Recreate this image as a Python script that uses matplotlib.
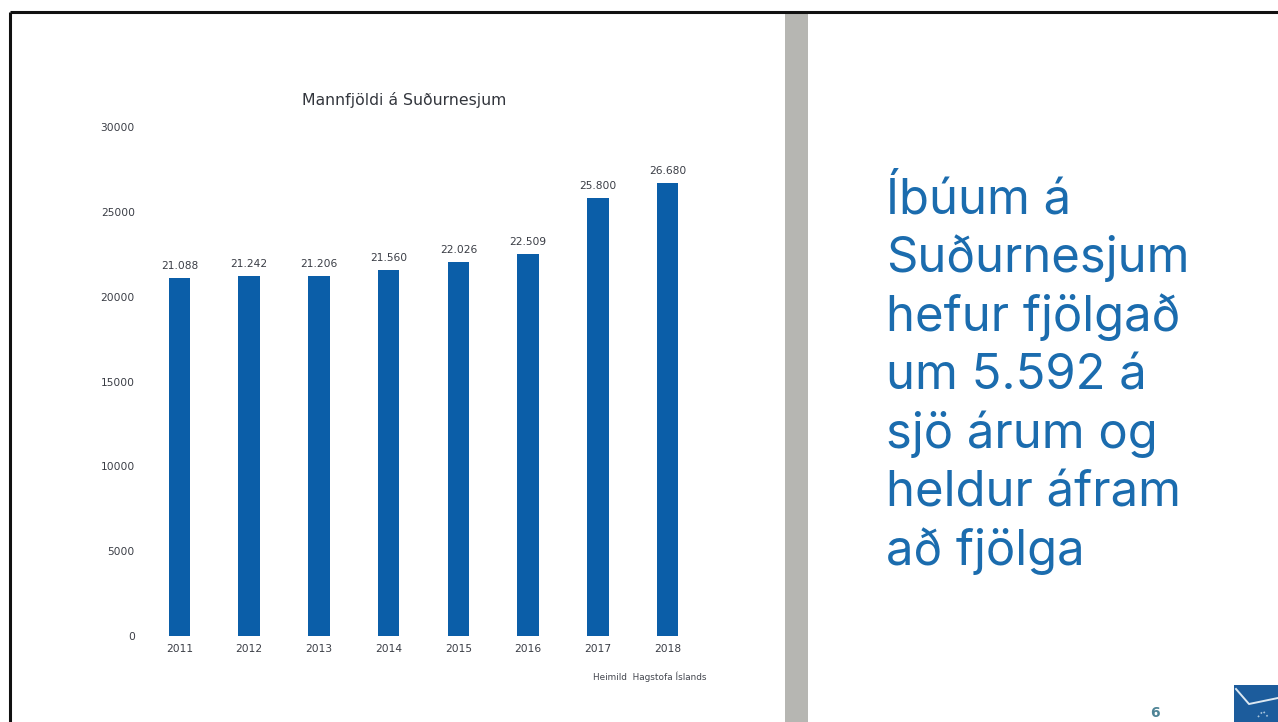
import matplotlib
matplotlib.use("Agg")
import matplotlib.pyplot as plt
from matplotlib.patches import Rectangle

years = ["2011", "2012", "2013", "2014", "2015", "2016", "2017", "2018"]
population = [21088, 21242, 21206, 21560, 22026, 22509, 25800, 26680]
value_labels = ["21.088", "21.242", "21.206", "21.560", "22.026", "22.509", "25.800", "26.680"]
y_ticks = [0, 5000, 10000, 15000, 20000, 25000, 30000]
title = "Mannfjöldi á Suðurnesjum"
source = "Heimild  Hagstofa Íslands"
headline = ["Íbúum á", "Suðurnesjum", "hefur fjölgað", "um 5.592 á", "sjö árum og", "heldur áfram", "að fjölga"]

W, H = 1278, 722
BLUE = "#0b5ea8"
TEXT = "#3a3d45"
plt.rcParams["font.family"] = ["DejaVu Sans"]
fig = plt.figure(figsize=(W / 100, H / 100), dpi=100, facecolor="white")

# page furniture in pixel coordinates
bg = fig.add_axes([0, 0, 1, 1])
bg.set_xlim(0, W); bg.set_ylim(H, 0); bg.axis("off")
bg.add_patch(Rectangle((785, 12), 23, H - 12, fc="#b6b6b2", ec="none"))
bg.plot([10, 10], [12, H], color="#111111", lw=2.2, solid_capstyle="butt")
bg.plot([10, W], [12, 12], color="#111111", lw=2.2, solid_capstyle="butt")
bg.add_patch(Rectangle((1234, 685), 44, 37, fc="#1c5c9c", ec="none"))
bg.plot([1236, 1249, 1278], [689, 704, 698], color="#dce8f2", lw=1.4)
bg.plot([1258, 1263, 1268], [717, 711, 717], color="#a8c4dc", lw=1.2, ls=":")
bg.text(1155, 713, "6", fontsize=10, fontweight="bold", color="#4f8496", ha="center", va="center")
for i, line in enumerate(headline):
    bg.text(886, 214 + i * 58.5, line, fontsize=35.3, color="#1b6cae", ha="left", va="baseline",
            family="Inter")
bg.text(649.5, 677, source, fontsize=6.4, color="#44474f", ha="center", va="center")

# chart
ax = fig.add_axes([144.5 / W, 1 - 636 / H, 558 / W, 509 / H])
ax.patch.set_alpha(0)
x = range(len(years))
bars = ax.bar(x, population, width=0.31, color=BLUE)
ax.set_xlim(-0.5, 7.5)
ax.set_ylim(0, 30000)
ax.set_yticks(y_ticks)
ax.set_xticks(list(x), years)
ax.tick_params(length=0, labelsize=7.7, labelcolor=TEXT)
ax.tick_params(axis="x", pad=6)
ax.tick_params(axis="y", pad=7)
for s in ax.spines.values():
    s.set_visible(False)
ax.bar_label(bars, labels=value_labels, padding=5, fontsize=7.7, color=TEXT)
fig.text(404.5 / W, 1 - 100 / H, title, fontsize=11.3, color="#33363d", ha="center", va="center")

fig.savefig("out.png", dpi=100)
